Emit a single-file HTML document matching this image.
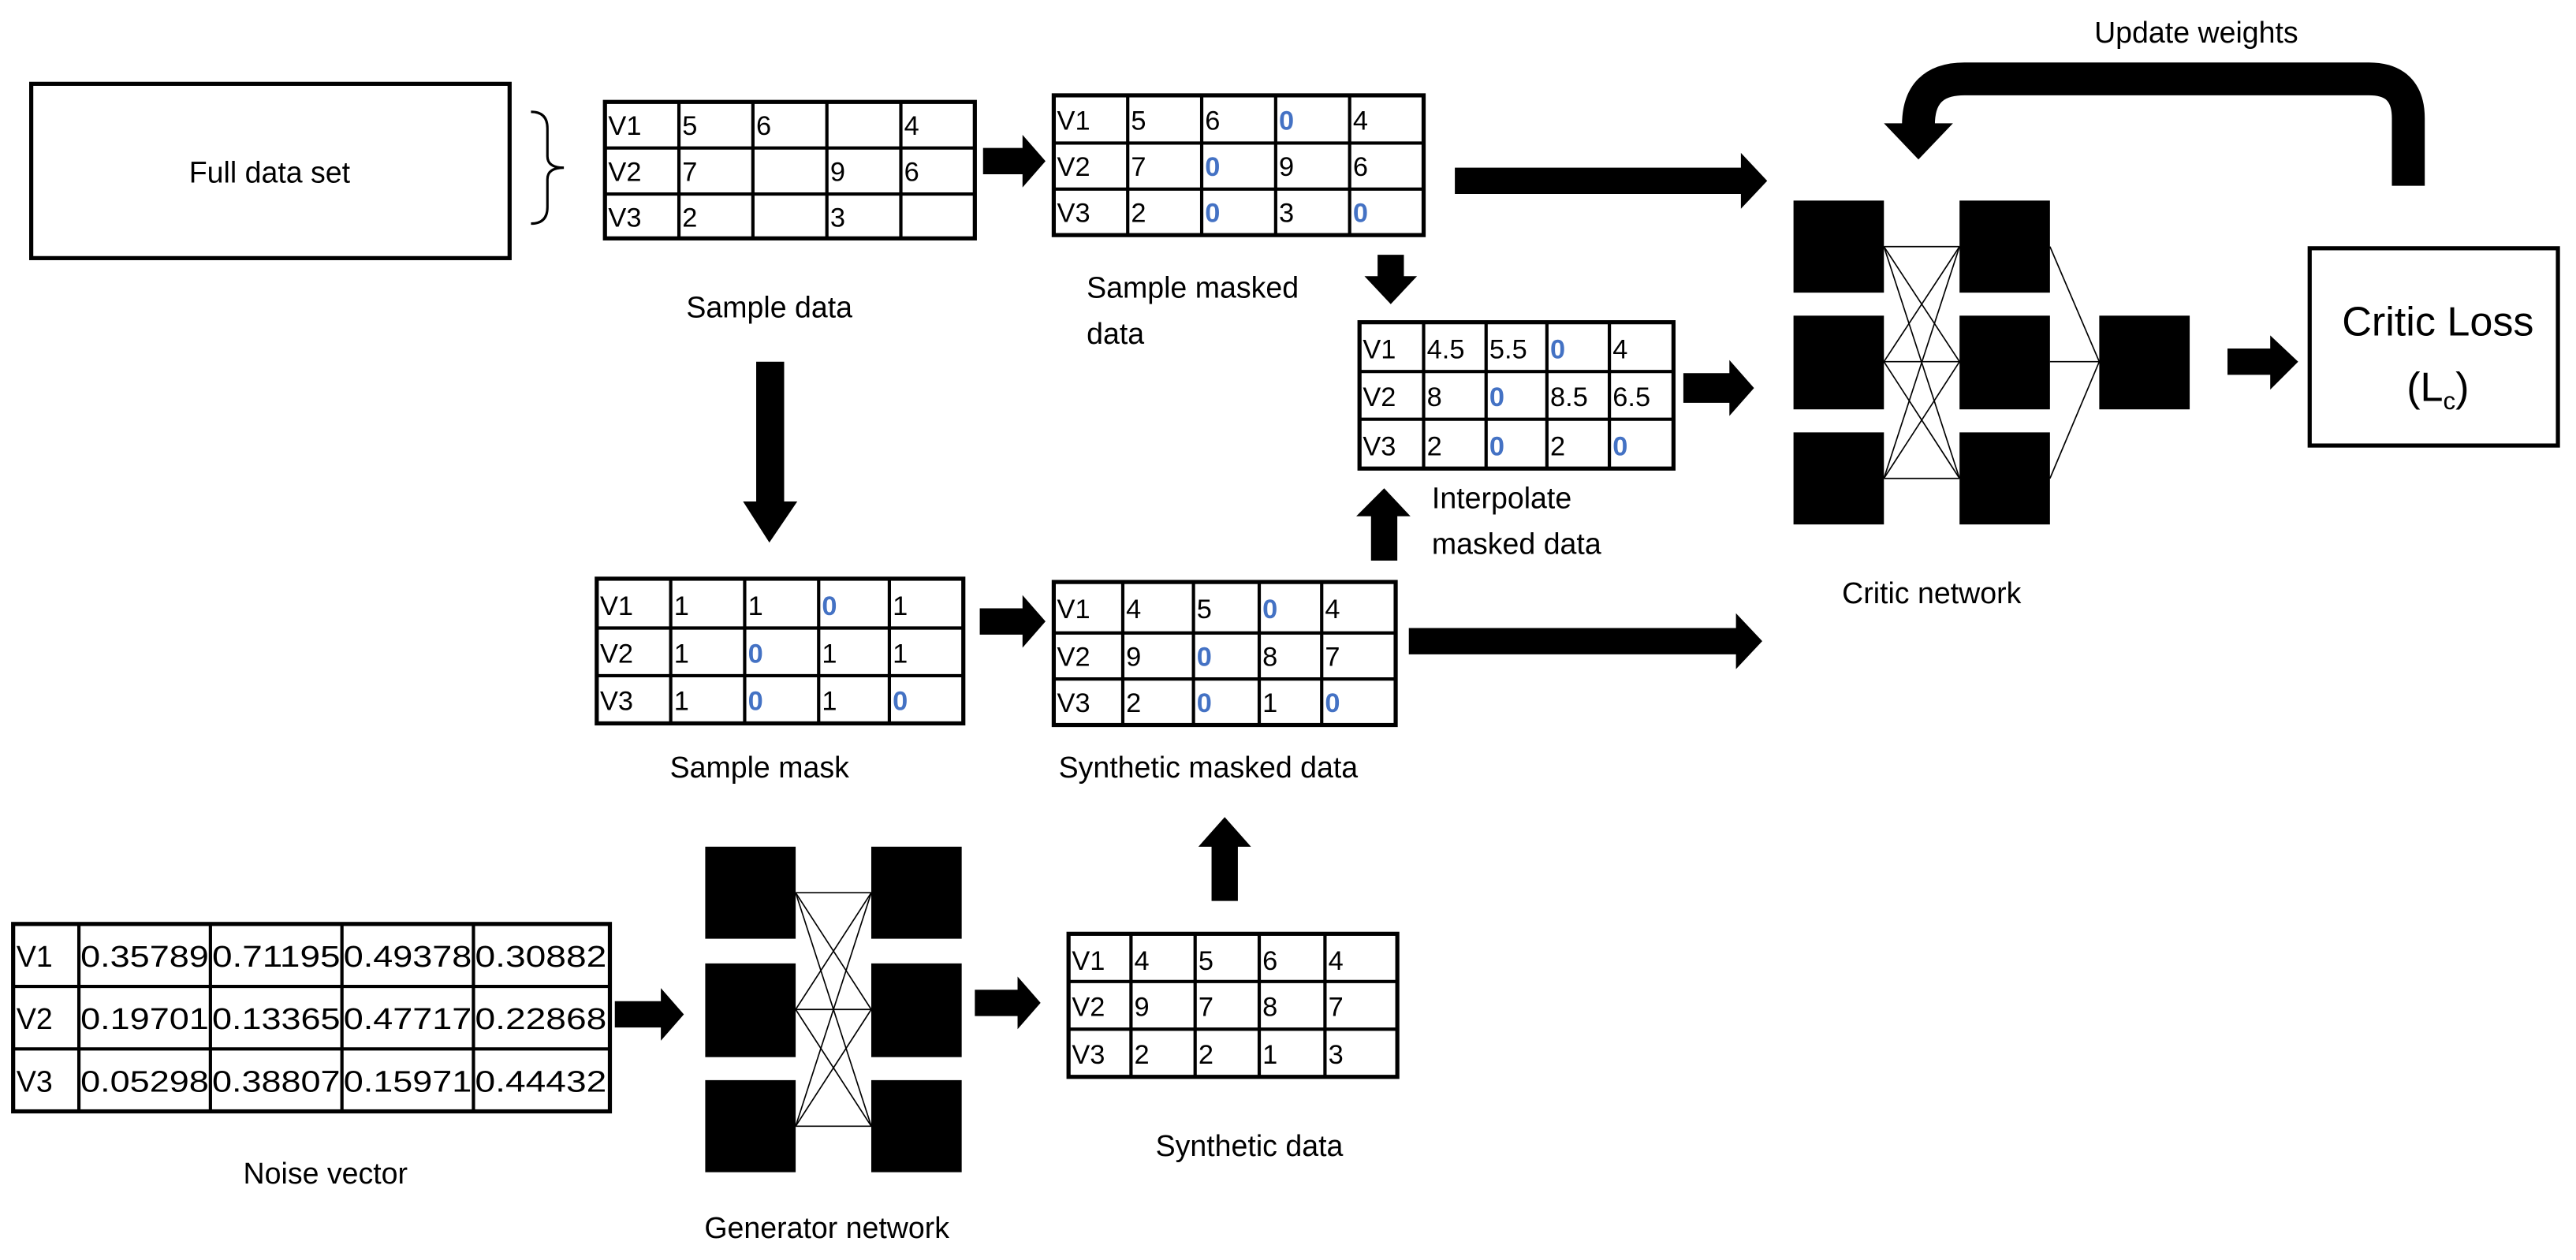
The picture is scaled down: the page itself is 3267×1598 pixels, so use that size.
<!DOCTYPE html>
<html><head><meta charset="utf-8"><style>
html,body{margin:0;padding:0;background:#fff;}
svg{display:block;}
text{font-family:"Liberation Sans",sans-serif;fill:#000;}
.c{font-size:16.5px;}
.b{fill:#4472C4;font-weight:bold;font-size:16.5px;}
.l{font-size:18px;text-anchor:middle;}
.t rect{fill:none;stroke:#000;stroke-width:2.5;}
.t line{stroke:#000;stroke-width:2;}
</style></head><body>
<svg width="3267" height="1598" viewBox="0 0 1567 766.4" preserveAspectRatio="none" xmlns="http://www.w3.org/2000/svg">
<rect x="19" y="51" width="291" height="106" fill="none" stroke="#000" stroke-width="2.5"/>
<text class="l" x="164" y="111">Full data set</text>
<path d="M323,68 Q333,68 333,78 L333,95 Q333,102 343,102 Q333,102 333,109 L333,126 Q333,136 323,136" fill="none" stroke="#000" stroke-width="1.5"/>

<g class="t"><rect x="368" y="62" width="225" height="83"/>
<line x1="413" y1="62" x2="413" y2="145"/><line x1="458" y1="62" x2="458" y2="145"/><line x1="503" y1="62" x2="503" y2="145"/><line x1="548" y1="62" x2="548" y2="145"/>
<line x1="368" y1="90" x2="593" y2="90" stroke-width="2.5"/><line x1="368" y1="118" x2="593" y2="118" stroke-width="2.5"/></g>
<g class="c"><text x="370" y="82">V1</text><text x="415" y="82">5</text><text x="460" y="82">6</text><text x="550" y="82">4</text>
<text x="370" y="110">V2</text><text x="415" y="110">7</text><text x="505" y="110">9</text><text x="550" y="110">6</text>
<text x="370" y="138">V3</text><text x="415" y="138">2</text><text x="505" y="138">3</text></g>
<text class="l" x="468" y="193">Sample data</text>

<g class="t"><rect x="641" y="58" width="225" height="85"/>
<line x1="686" y1="58" x2="686" y2="143"/><line x1="731" y1="58" x2="731" y2="143"/><line x1="776" y1="58" x2="776" y2="143"/><line x1="821" y1="58" x2="821" y2="143"/>
<line x1="641" y1="87" x2="866" y2="87" stroke-width="2.5"/><line x1="641" y1="115" x2="866" y2="115" stroke-width="2.5"/></g>
<text class="c" x="643" y="79">V1</text><text class="c" x="688" y="79">5</text><text class="c" x="733" y="79">6</text><text class="b" x="778" y="79">0</text><text class="c" x="823" y="79">4</text>
<text class="c" x="643" y="107">V2</text><text class="c" x="688" y="107">7</text><text class="b" x="733" y="107">0</text><text class="c" x="778" y="107">9</text><text class="c" x="823" y="107">6</text>
<text class="c" x="643" y="135">V3</text><text class="c" x="688" y="135">2</text><text class="b" x="733" y="135">0</text><text class="c" x="778" y="135">3</text><text class="b" x="823" y="135">0</text>
<text class="l" x="661" y="181" style="text-anchor:start">Sample masked</text>
<text class="l" x="661" y="209" style="text-anchor:start">data</text>

<g class="t"><rect x="827" y="196" width="191" height="89"/>
<line x1="866" y1="196" x2="866" y2="285"/><line x1="904" y1="196" x2="904" y2="285"/><line x1="941" y1="196" x2="941" y2="285"/><line x1="979" y1="196" x2="979" y2="285"/>
<line x1="827" y1="226" x2="1018" y2="226" stroke-width="2.5"/><line x1="827" y1="255" x2="1018" y2="255" stroke-width="2.5"/></g>
<text class="c" x="829" y="218">V1</text><text class="c" x="868" y="218">4.5</text><text class="c" x="906" y="218">5.5</text><text class="b" x="943" y="218">0</text><text class="c" x="981" y="218">4</text>
<text class="c" x="829" y="247">V2</text><text class="c" x="868" y="247">8</text><text class="b" x="906" y="247">0</text><text class="c" x="943" y="247">8.5</text><text class="c" x="981" y="247">6.5</text>
<text class="c" x="829" y="277">V3</text><text class="c" x="868" y="277">2</text><text class="b" x="906" y="277">0</text><text class="c" x="943" y="277">2</text><text class="b" x="981" y="277">0</text>
<text class="l" x="871" y="309" style="text-anchor:start">Interpolate</text>
<text class="l" x="871" y="337" style="text-anchor:start">masked data</text>

<g class="t"><rect x="363" y="352" width="223" height="88"/>
<line x1="408" y1="352" x2="408" y2="440"/><line x1="453" y1="352" x2="453" y2="440"/><line x1="498" y1="352" x2="498" y2="440"/><line x1="541" y1="352" x2="541" y2="440"/>
<line x1="363" y1="382" x2="586" y2="382" stroke-width="2.5"/><line x1="363" y1="411" x2="586" y2="411" stroke-width="2.5"/></g>
<text class="c" x="365" y="374">V1</text><text class="c" x="410" y="374">1</text><text class="c" x="455" y="374">1</text><text class="b" x="500" y="374">0</text><text class="c" x="543" y="374">1</text>
<text class="c" x="365" y="403">V2</text><text class="c" x="410" y="403">1</text><text class="b" x="455" y="403">0</text><text class="c" x="500" y="403">1</text><text class="c" x="543" y="403">1</text>
<text class="c" x="365" y="432">V3</text><text class="c" x="410" y="432">1</text><text class="b" x="455" y="432">0</text><text class="c" x="500" y="432">1</text><text class="b" x="543" y="432">0</text>
<text class="l" x="462" y="473">Sample mask</text>

<g class="t"><rect x="641" y="354" width="208" height="87"/>
<line x1="683" y1="354" x2="683" y2="441"/><line x1="726" y1="354" x2="726" y2="441"/><line x1="766" y1="354" x2="766" y2="441"/><line x1="804" y1="354" x2="804" y2="441"/>
<line x1="641" y1="385" x2="849" y2="385" stroke-width="2.5"/><line x1="641" y1="413" x2="849" y2="413" stroke-width="2.5"/></g>
<text class="c" x="643" y="376">V1</text><text class="c" x="685" y="376">4</text><text class="c" x="728" y="376">5</text><text class="b" x="768" y="376">0</text><text class="c" x="806" y="376">4</text>
<text class="c" x="643" y="405">V2</text><text class="c" x="685" y="405">9</text><text class="b" x="728" y="405">0</text><text class="c" x="768" y="405">8</text><text class="c" x="806" y="405">7</text>
<text class="c" x="643" y="433">V3</text><text class="c" x="685" y="433">2</text><text class="b" x="728" y="433">0</text><text class="c" x="768" y="433">1</text><text class="b" x="806" y="433">0</text>
<text class="l" x="735" y="473">Synthetic masked data</text>

<g class="t"><rect x="650" y="568" width="200" height="87"/>
<line x1="688" y1="568" x2="688" y2="655"/><line x1="727" y1="568" x2="727" y2="655"/><line x1="766" y1="568" x2="766" y2="655"/><line x1="806" y1="568" x2="806" y2="655"/>
<line x1="650" y1="597" x2="850" y2="597" stroke-width="2.5"/><line x1="650" y1="626" x2="850" y2="626" stroke-width="2.5"/></g>
<text class="c" x="652" y="590">V1</text><text class="c" x="690" y="590">4</text><text class="c" x="729" y="590">5</text><text class="c" x="768" y="590">6</text><text class="c" x="808" y="590">4</text>
<text class="c" x="652" y="618">V2</text><text class="c" x="690" y="618">9</text><text class="c" x="729" y="618">7</text><text class="c" x="768" y="618">8</text><text class="c" x="808" y="618">7</text>
<text class="c" x="652" y="647">V3</text><text class="c" x="690" y="647">2</text><text class="c" x="729" y="647">2</text><text class="c" x="768" y="647">1</text><text class="c" x="808" y="647">3</text>
<text class="l" x="760" y="703">Synthetic data</text>

<g class="t"><rect x="8" y="562" width="363" height="114"/>
<line x1="48" y1="562" x2="48" y2="676"/><line x1="128" y1="562" x2="128" y2="676"/><line x1="208" y1="562" x2="208" y2="676"/><line x1="288" y1="562" x2="288" y2="676"/>
<line x1="8" y1="600" x2="371" y2="600" stroke-width="2.5"/><line x1="8" y1="638" x2="371" y2="638" stroke-width="2.5"/></g>
<g class="c" style="font-size:18px">
<text x="10" y="588">V1</text><text x="49" y="588" textLength="78" lengthAdjust="spacingAndGlyphs">0.35789</text><text x="129" y="588" textLength="78" lengthAdjust="spacingAndGlyphs">0.71195</text><text x="209" y="588" textLength="78" lengthAdjust="spacingAndGlyphs">0.49378</text><text x="289" y="588" textLength="80" lengthAdjust="spacingAndGlyphs">0.30882</text>
<text x="10" y="626">V2</text><text x="49" y="626" textLength="78" lengthAdjust="spacingAndGlyphs">0.19701</text><text x="129" y="626" textLength="78" lengthAdjust="spacingAndGlyphs">0.13365</text><text x="209" y="626" textLength="78" lengthAdjust="spacingAndGlyphs">0.47717</text><text x="289" y="626" textLength="80" lengthAdjust="spacingAndGlyphs">0.22868</text>
<text x="10" y="664">V3</text><text x="49" y="664" textLength="78" lengthAdjust="spacingAndGlyphs">0.05298</text><text x="129" y="664" textLength="78" lengthAdjust="spacingAndGlyphs">0.38807</text><text x="209" y="664" textLength="78" lengthAdjust="spacingAndGlyphs">0.15971</text><text x="289" y="664" textLength="80" lengthAdjust="spacingAndGlyphs">0.44432</text>
</g>
<text class="l" x="198" y="720">Noise vector</text>

<g fill="#000"><rect x="429" y="515" width="55" height="56"/><rect x="429" y="586" width="55" height="57"/><rect x="429" y="657" width="55" height="56"/>
<rect x="530" y="515" width="55" height="56"/><rect x="530" y="586" width="55" height="57"/><rect x="530" y="657" width="55" height="56"/></g>
<g stroke="#000" stroke-width="0.8">
<line x1="484" y1="543" x2="530" y2="543"/><line x1="484" y1="543" x2="530" y2="614"/><line x1="484" y1="543" x2="530" y2="685"/>
<line x1="484" y1="614" x2="530" y2="543"/><line x1="484" y1="614" x2="530" y2="614"/><line x1="484" y1="614" x2="530" y2="685"/>
<line x1="484" y1="685" x2="530" y2="543"/><line x1="484" y1="685" x2="530" y2="614"/><line x1="484" y1="685" x2="530" y2="685"/></g>
<text class="l" x="503" y="753">Generator network</text>

<g fill="#000"><rect x="1091" y="122" width="55" height="56"/><rect x="1091" y="192" width="55" height="57"/><rect x="1091" y="263" width="55" height="56"/>
<rect x="1192" y="122" width="55" height="56"/><rect x="1192" y="192" width="55" height="57"/><rect x="1192" y="263" width="55" height="56"/>
<rect x="1277" y="192" width="55" height="57"/></g>
<g stroke="#000" stroke-width="0.8">
<line x1="1146" y1="150" x2="1192" y2="150"/><line x1="1146" y1="150" x2="1192" y2="220"/><line x1="1146" y1="150" x2="1192" y2="291"/>
<line x1="1146" y1="220" x2="1192" y2="150"/><line x1="1146" y1="220" x2="1192" y2="220"/><line x1="1146" y1="220" x2="1192" y2="291"/>
<line x1="1146" y1="291" x2="1192" y2="150"/><line x1="1146" y1="291" x2="1192" y2="220"/><line x1="1146" y1="291" x2="1192" y2="291"/>
<line x1="1247" y1="150" x2="1277" y2="220"/><line x1="1247" y1="220" x2="1277" y2="220"/><line x1="1247" y1="291" x2="1277" y2="220"/></g>
<text class="l" x="1175" y="367">Critic network</text>

<rect x="1405" y="151" width="151" height="120" fill="none" stroke="#000" stroke-width="2.5"/>
<text x="1483" y="204" style="font-size:25px;text-anchor:middle">Critic Loss</text>
<text x="1483" y="244" style="font-size:25px;text-anchor:middle">(L<tspan style="font-size:15px" dy="5">c</tspan><tspan dy="-5">)</tspan></text>

<text class="l" x="1336" y="26">Update weights</text>
<path d="M1465,113 L1465,72 Q1465,48 1441,48 L1195,48 Q1167,48 1167,76 L1167,78" fill="none" stroke="#000" stroke-width="20"/>
<polygon points="1146,75 1188,75 1167,97" fill="#000"/>

<g fill="#000">
<polygon points="598,90 622,90 622,82 636,98 622,114 622,106 598,106"/>
<polygon points="885,102 1059,102 1059,93 1075,110 1059,127 1059,118 885,118"/>
<polygon points="1024,227 1052,227 1052,219 1067,236 1052,253 1052,245 1024,245"/>
<polygon points="1355,212 1381,212 1381,204 1398,220 1381,237 1381,228 1355,228"/>
<polygon points="596,370 622,370 622,362 636,378 622,394 622,386 596,386"/>
<polygon points="857,382 1056,382 1056,373 1072,390 1056,407 1056,398 857,398"/>
<polygon points="374,609 402,609 402,601 416,617 402,633 402,625 374,625"/>
<polygon points="593,602 619,602 619,594 633,610 619,626 619,618 593,618"/>
<polygon points="838,155 854,155 854,168 862,168 846,185 830,168 838,168"/>
<polygon points="460,220 477,220 477,305 485,305 468,330 452,305 460,305"/>
<polygon points="834,341 850,341 850,314 858,314 842,297 825,314 834,314"/>
<polygon points="737,548 753,548 753,515 761,515 745,497 729,515 737,515"/>
</g>
</svg>
</body></html>
